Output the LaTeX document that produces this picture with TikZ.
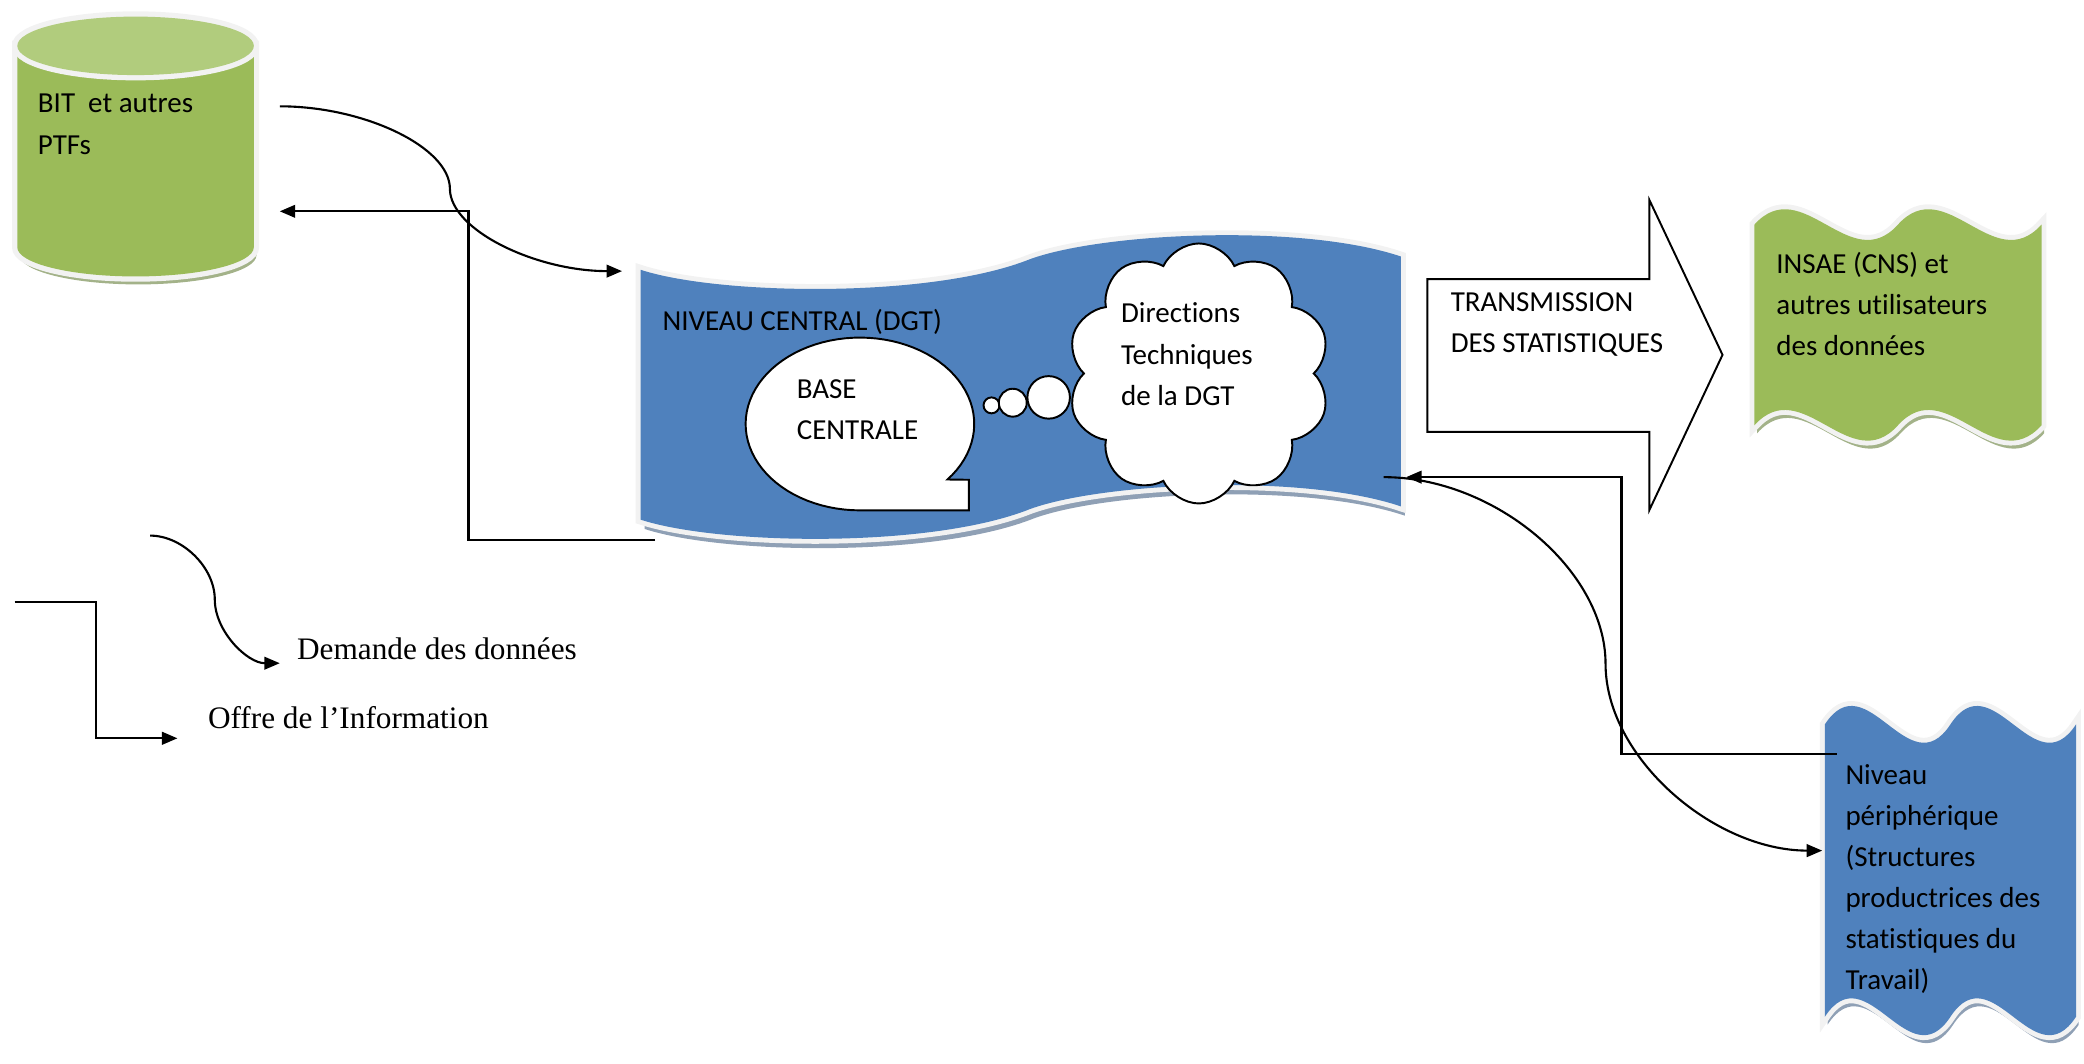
\documentclass[tikz,border=0pt]{standalone}
\usepackage{fontspec}
\usepackage{tikz}
\usetikzlibrary{arrows.meta}
\usetikzlibrary{shapes.symbols}
\newfontfamily\calibri[Ligatures=NoCommon]{Carlito}
\newfontfamily\garamond{Liberation Serif}
\definecolor{officeblue}{RGB}{79,129,189}
\definecolor{officegreen}{RGB}{155,187,89}
\definecolor{lightgreen}{RGB}{177,204,125}
\definecolor{rimgray}{RGB}{242,242,242}
\definecolor{blueshadow}{RGB}{143,160,181}
\definecolor{greenshadow}{RGB}{163,178,137}
\newcommand{\pxu}{0.013291cm}
\newcommand{\lines}[1]{\begin{tabular}[t]{@{}l@{}}#1\end{tabular}}
% wave with two periods on top and bottom: left, right, top, bottom, swing
\newcommand{\dwave}[5]{(#1,#3) .. controls ({#1+(#2-#1)/6},{#3-#5}) and ({#1+(#2-#1)/3},{#3+#5}) .. ({(#1+#2)/2},#3)
  .. controls ({#1+2*(#2-#1)/3},{#3-#5}) and ({#1+5*(#2-#1)/6},{#3+#5}) .. (#2,#3) -- (#2,#4)
  .. controls ({#1+5*(#2-#1)/6},{#4+#5}) and ({#1+2*(#2-#1)/3},{#4-#5}) .. ({(#1+#2)/2},#4)
  .. controls ({#1+(#2-#1)/3},{#4+#5}) and ({#1+(#2-#1)/6},{#4-#5}) .. (#1,#4) -- cycle}
\newcommand{\centralwave}{(482,203) .. controls (540,222) and (700,225) .. (775,195)
  .. controls (830,175) and (980,168) .. (1054,193) -- (1054,381)
  .. controls (980,356) and (830,363) .. (775,383)
  .. controls (700,413) and (540,410) .. (482,391) -- cycle}
\tikzset{
  rim/.style={preaction={draw=rimgray, line width=#1}},
  rim/.default=2.8pt,
  txt/.style={anchor=base west, inner sep=0pt, font=\calibri\fontsize{8.25pt}{11.7pt}\selectfont},
  legend/.style={anchor=base west, inner sep=0pt, font=\garamond\fontsize{8.9pt}{11pt}\selectfont},
  conn/.style={line width=0.6pt, -{Triangle[length=4.4pt,width=3.6pt]}},
  outline/.style={draw=black, line width=0.55pt, fill=white}
}
\begin{document}
\begin{tikzpicture}[x=0.013291cm, y=-0.013291cm]
        \useasboundingbox (0,0) rectangle (1568,800);

        % BIT cylinder
        \fill[greenshadow, shift={(2,6)}] (13,34.5) -- (13,186) arc[start angle=180, end angle=360, x radius=89*\pxu, y radius=22*\pxu] -- (191,34.5) -- cycle;
        \fill[officegreen, rim=3pt] (13,34.5) -- (13,186) arc[start angle=180, end angle=360, x radius=89*\pxu, y radius=22*\pxu] -- (191,34.5) -- cycle;
        \fill[lightgreen, rim=3pt] (102,34.5) ellipse[x radius=89*\pxu, y radius=22*\pxu];
        \node[txt] (bit) at (28,85) {\lines{BIT\ \ et autres\\PTFs}};

        % niveau central
        \fill[blueshadow, shift={(3,7)}] \centralwave;
        \fill[officeblue, rim] \centralwave;
        \node[txt] (central) at (498,249) {NIVEAU CENTRAL (DGT)};

        \draw[outline] plot[domain=90:400, samples=80] ({647+86*cos(\x)},{319+65*sin(\x)}) -- (729,361) -- (729,384) -- cycle;
        \node[txt] (base) at (599,300) {\lines{BASE\\CENTRALE}};
        \foreach \cx/\cy/\r in {746/305/6, 762/303/10.5, 789/299/16}
        {
            \draw[outline] (\cx,\cy) circle[radius=\r];
        }
        \node[cloud, cloud puffs=10, cloud puff arc=130, cloud ignores aspect, outline,
              minimum width=2.63cm, minimum height=2.6cm] (dirs) at (902,281) {};
        \node[txt] (dirs-txt) at (843,243) {\lines{Directions\\Techniques\\de la DGT}};

        % transmission
        \draw[outline] (1074,210) -- (1241,210) -- (1241,150.5) -- (1296,267) -- (1241,383.7) -- (1241,325) -- (1074,325) -- cycle;
        \node[txt] (transm) at (1091,234.5) {\lines{TRANSMISSION\\DES STATISTIQUES}};

        % INSAE
        \fill[greenshadow, shift={(2,6)}] \dwave{1320}{1536}{169}{320}{40};
        \fill[officegreen, rim] \dwave{1320}{1536}{169}{320}{40};
        \node[txt] (insae) at (1336,205.5) {\lines{INSAE (CNS) et\\autres utilisateurs\\des donn\'ees}};

        % niveau peripherique
        \fill[blueshadow, shift={(2,6)}] \dwave{1373}{1562}{545}{765}{48};
        \fill[officeblue, rim] \dwave{1373}{1562}{545}{765}{48};
        \node[txt] (periph) at (1388,590) {\lines{Niveau\\p\'eriph\'erique\\(Structures\\productrices des\\statistiques du\\Travail)}};

        % connectors
        \coordinate (bit-out) at (210.5,80);
        \coordinate (bit-in) at (210.5,159);
        \coordinate (central-in) at (468,204);
        \coordinate (central-out) at (493,406);
        \coordinate (central-back) at (1058,359);
        \coordinate (central-go) at (1041,359);
        \coordinate (periph-out) at (1382,567);
        \coordinate (periph-in) at (1371,640);
        \draw[conn] (bit-out) .. controls (274.5,80) and (338.5,111) .. (338.5,142) .. controls (338.5,173) and (403,204) .. (central-in);
        \draw[conn] (central-out) -| (352.5,159) -- (bit-in);
        \draw[conn] (periph-out) -| (1220,359) -- (central-back);
        \draw[conn] (central-go) .. controls (1124.5,359) and (1208,429) .. (1208,499.5) .. controls (1208,570) and (1289.5,640) .. (periph-in);

        % legend
        \coordinate (dem-start) at (113,403);
        \coordinate (dem-end) at (210.5,499);
        \coordinate (off-start) at (11,453);
        \coordinate (off-end) at (133.5,555.5);
        \draw[conn] (dem-start) .. controls (137.3,403) and (161.6,427) .. (161.6,451) .. controls (161.6,475) and (186,499) .. (dem-end);
        \draw[conn] (off-start) -| (72.4,555.5) -- (off-end);
        \node[legend] (demande) at (223,496.5) {Demande des donn\'ees};
        \node[legend] (offre) at (156,548) {Offre de l’Information};
\end{tikzpicture}
\end{document}
